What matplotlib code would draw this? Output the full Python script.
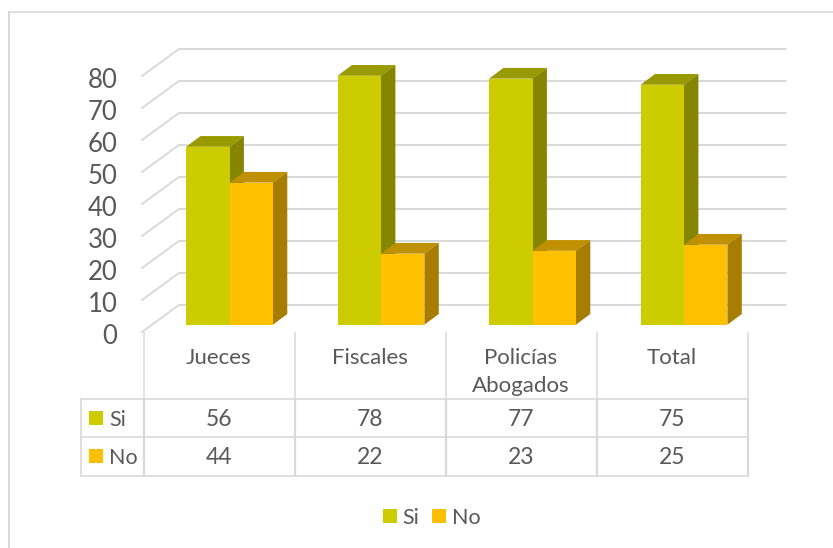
import matplotlib
matplotlib.use('Agg')
import matplotlib.pyplot as plt
from matplotlib.patches import Polygon, Rectangle

plt.rcParams['font.family'] = ['Lato', 'DejaVu Sans']

#chart values, bar heights, table shows them rounded
categories = ['Jueces', 'Fiscales', 'Policías\nAbogados', 'Total']
si_values = [55.6, 77.8, 76.9, 75.0]
no_values = [44.4, 22.2, 23.1, 25.0]
y_ticks = [0, 10, 20, 30, 40, 50, 60, 70, 80]

W, H = 833, 548
TEXT = '#595959'
LINE = '#d9d9d9'

#one category is 151 px wide and one unit is 3.2 px tall on the front plane
CAT_PX = 151.0
UNIT_PX = 3.2
X0_PX = 143.5
Y0_PX = 332.0


def px(x):
    return (x - X0_PX) / CAT_PX


def py(y):
    return (Y0_PX - y) / UNIT_PX


fig = plt.figure(figsize=(W / 100, H / 100), dpi=100)
ax = fig.add_axes([0, 0, 1, 1])
ax.set_xlim(px(0), px(W))
ax.set_ylim(py(H), py(0))
ax.axis('off')

#outer frame, only top and left show
ax.plot([px(8.5), px(8.5)], [py(H), py(11.7)], color=LINE, lw=1.4, zorder=1)
ax.plot([px(8.5), px(W)], [py(11.7), py(11.7)], color=LINE, lw=1.1, zorder=1)

#walls: gridlines go back 37 px and up 27 px
wall_dx = 37.0 / CAT_PX
wall_dy = 27.0 / UNIT_PX
wall_left = px(142.0)
wall_right = px(785.5)
for t in y_ticks:
    ax.plot([wall_left, wall_left + wall_dx, wall_right],
            [t, t + wall_dy, t + wall_dy], color=LINE, lw=1.4, zorder=1,
            solid_joinstyle='miter')
    #labels sit a bit under their gridline
    ax.text(px(117.5), t - 4.5 / UNIT_PX, str(t), fontsize=18.5, color=TEXT,
            ha='right', va='center')

#bars
bar_w = 43.4 / CAT_PX
bar_base = (Y0_PX - 324.7) / UNIT_PX
depth_x = 14.4 / CAT_PX
depth_y = 10.7 / UNIT_PX
centers = [(px(229.5) + i * (px(381) - px(229.5))) for i in range(len(categories))]


def draw_bars(x_left, values, front, top, side, z):
    xs = [x + bar_w / 2 for x in x_left]
    ax.bar(xs, values, width=bar_w, bottom=bar_base, color=front, zorder=z + 1,
           linewidth=0)
    for x, v in zip(x_left, values):
        y_top = bar_base + v
        ax.add_patch(Polygon([(x, y_top), (x + bar_w, y_top),
                              (x + bar_w + depth_x, y_top + depth_y),
                              (x + depth_x, y_top + depth_y)],
                             closed=True, facecolor=top, linewidth=0, zorder=z))
        ax.add_patch(Polygon([(x + bar_w, bar_base), (x + bar_w + depth_x, bar_base + depth_y),
                              (x + bar_w + depth_x, y_top + depth_y), (x + bar_w, y_top)],
                             closed=True, facecolor=side, linewidth=0, zorder=z))


draw_bars([c - bar_w for c in centers], si_values, '#cccc00', '#999900', '#858500', 3)
draw_bars(centers, no_values, '#ffc000', '#bf9000', '#a67d00', 5)

#data table
col_edges = [px(143.5) + i for i in range(len(categories) + 1)]
row_top, row_mid, row_bottom = py(399.3), py(437.3), py(475.7)
for e in col_edges:
    ax.plot([e, e], [py(333), row_top], color=LINE, lw=1.1, zorder=2)
    ax.plot([e, e], [row_top, row_bottom], color=LINE, lw=1.6, zorder=2)
for r in [row_top, row_mid, row_bottom]:
    ax.plot([px(81), col_edges[-1]], [r, r], color=LINE, lw=1.2, zorder=2)
ax.plot([px(81), px(81)], [row_top, row_bottom], color=LINE, lw=1.2, zorder=2)

for i, cat in enumerate(categories):
    xc = col_edges[i] + 0.5
    ax.text(xc, py(347.5), cat, fontsize=16, color=TEXT, ha='center', va='top',
            linespacing=1.55)
    ax.text(xc, py(420), f'{si_values[i]:.0f}', fontsize=16.5, color=TEXT,
            ha='center', va='center')
    ax.text(xc, py(458), f'{no_values[i]:.0f}', fontsize=16.5, color=TEXT,
            ha='center', va='center')


def key(x, y, label, color, tx):
    ax.add_patch(Rectangle((px(x), py(y + 14)), 14 / CAT_PX, 14 / UNIT_PX,
                           facecolor=color, linewidth=0, zorder=3))
    ax.text(px(tx), py(y + 8.5), label, fontsize=15.5, color=TEXT, ha='left',
            va='center')


#row keys and legend
key(89, 411, 'Si', '#cccc00', 109)
key(89, 449, 'No', '#ffc000', 109)
key(383, 509, 'Si', '#cccc00', 402)
key(432, 509, 'No', '#ffc000', 452)

fig.savefig('out.png', dpi=100)
